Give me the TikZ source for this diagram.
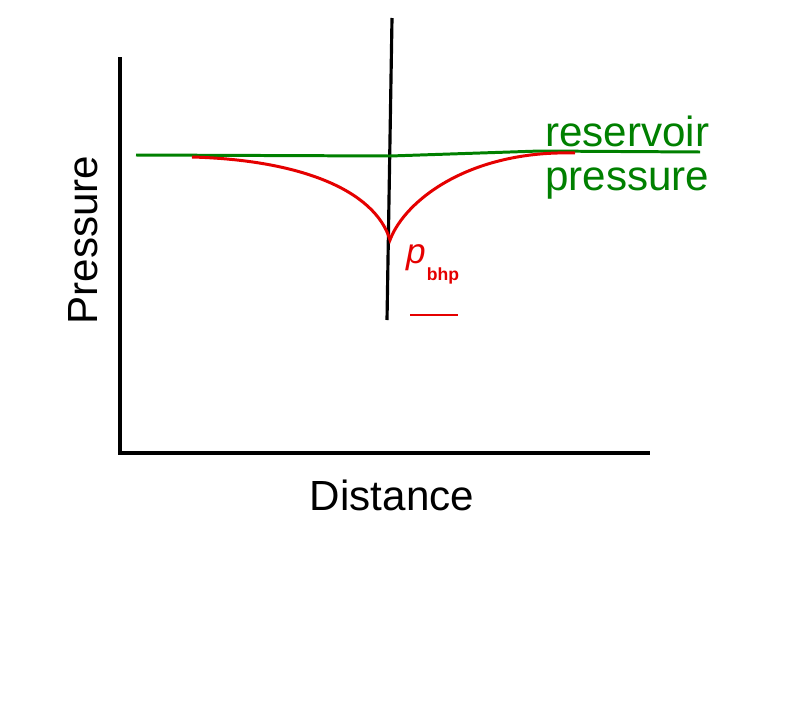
\documentclass[tikz,border=0pt]{standalone}
\usepackage{fontspec}
\setmainfont{Liberation Sans}
\begin{document}
\begin{tikzpicture}[x=0.02cm,y=-0.02cm,
  ax/.style={line width=1.8pt,black},
  grn/.style={line width=1.7pt,green!50!black},
  rd/.style={line width=1.7pt,red!90!black},
  lbl/.style={font=\fontsize{24}{26}\selectfont,inner sep=0pt}]
\useasboundingbox[fill=white] (0,0) rectangle (800,703);
\coordinate (top) at (120,57);
\coordinate (orig) at (120,453);
\coordinate (xend) at (650,453);
\draw[ax] (top) -- (orig) -- (xend);
\coordinate (w1) at (392,18);
\coordinate (w2) at (387,320);
\draw[ax] (w1) -- (w2);
\coordinate (g1) at (136,155);
\coordinate (g2) at (390,156);
\coordinate (g3) at (540,151);
\coordinate (g4) at (700,152);
\draw[grn] (g1) -- (g2) -- (g3) -- (g4);
\coordinate (r1) at (192,157);
\coordinate (rc) at (390,240);
\coordinate (r2) at (575,153);
\draw[rd] (r1) .. controls (300,160) and (375,190) .. (rc)
  .. controls (405,200) and (470,150) .. (r2);
\node[lbl,green!50!black,align=left,anchor=north west,font=\fontsize{24}{25}\selectfont] (res) at (545,116) {reservoir\\pressure};
\node[lbl,rotate=90] (py) at (83,240) {Pressure};
\node[lbl] (dx) at (392,495) {Distance};
\node[red!90!black,inner sep=0pt,font=\fontsize{20}{20}\selectfont\itshape] (p) at (416,258) {p};
\node[red!90!black,inner sep=0pt,font=\fontsize{10}{10}\selectfont\bfseries] (bhp) at (443,276) {bhp};
\coordinate (u1) at (410,315);
\coordinate (u2) at (458,315);
\draw[rd] (u1) -- (u2);
\end{tikzpicture}
\end{document}
